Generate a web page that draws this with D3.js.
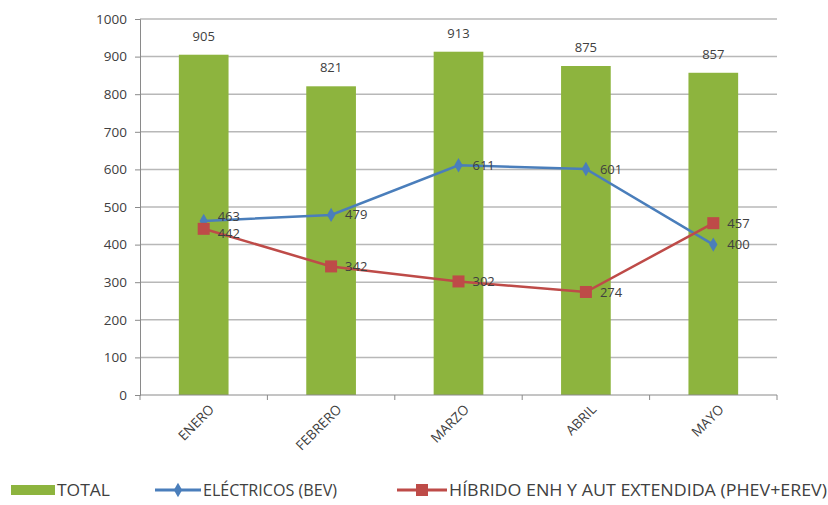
<!DOCTYPE html>
<html>
<head>
<meta charset="utf-8">
<script src="https://cdn.jsdelivr.net/npm/d3@7"></script>
<style>
  body { margin: 0; background: #fff; }
  text { font-family: "Open Sans", "Liberation Sans", sans-serif; fill: #404040; }
</style>
</head>
<body>
<div id="chart"></div>
<script>
const months = ['ENERO', 'FEBRERO', 'MARZO', 'ABRIL', 'MAYO'];
const total = [905, 821, 913, 875, 857];
const bev = [463, 479, 611, 601, 400];
const hybrid = [442, 342, 302, 274, 457];
const yTicks = [0, 100, 200, 300, 400, 500, 600, 700, 800, 900, 1000];

const width = 828;
const height = 505;
const margin = {left: 140, right: 51, top: 19, bottom: 110};

const svg = d3.select('#chart').append('svg')
  .attr('width', width)
  .attr('height', height);

const x = d3.scaleBand()
  .domain(months)
  .range([margin.left, width - margin.right])
  .paddingInner(0.61)
  .paddingOuter(0.305);

const y = d3.scaleLinear()
  .domain([0, 1000])
  .range([height - margin.bottom, margin.top]);

const cx = m => x(m) + x.bandwidth() / 2;

// gridlines
svg.append('g')
  .selectAll('line')
  .data(yTicks.slice(1))
  .join('line')
  .attr('x1', margin.left)
  .attr('x2', width - margin.right)
  .attr('y1', d => y(d))
  .attr('y2', d => y(d))
  .attr('stroke', '#b8b8b8')
  .attr('stroke-width', 1.5);

// y axis
const yAxis = svg.append('g')
  .attr('transform', `translate(${margin.left},0)`)
  .call(d3.axisLeft(y).tickValues(yTicks).tickFormat(d3.format('d')).tickSize(5).tickPadding(8));
yAxis.select('.domain').attr('stroke', '#8a8a8a');
yAxis.selectAll('.tick line').attr('stroke', '#8a8a8a');
yAxis.selectAll('text')
  .attr('font-size', 13.5)
  .attr('fill', '#404040')
  .style('font-family', '"Open Sans", sans-serif');

// bars
svg.append('g')
  .selectAll('rect')
  .data(total)
  .join('rect')
  .attr('x', (d, i) => x(months[i]))
  .attr('width', x.bandwidth())
  .attr('y', d => y(d))
  .attr('height', d => y(0) - y(d))
  .attr('fill', '#8db43e');

svg.append('g')
  .selectAll('text')
  .data(total)
  .join('text')
  .attr('x', (d, i) => cx(months[i]))
  .attr('y', d => y(d) - 14)
  .attr('text-anchor', 'middle')
  .attr('font-size', 13)
  .text(d => d);

// x axis
const xAxisY = y(0);
svg.append('line')
  .attr('x1', margin.left).attr('x2', width - margin.right)
  .attr('y1', xAxisY).attr('y2', xAxisY)
  .attr('stroke', '#8a8a8a');
const step = x.step();
svg.append('g')
  .selectAll('line')
  .data(d3.range(months.length + 1))
  .join('line')
  .attr('x1', i => margin.left + i * step)
  .attr('x2', i => margin.left + i * step)
  .attr('y1', xAxisY)
  .attr('y2', xAxisY + 5)
  .attr('stroke', '#8a8a8a');

svg.append('g')
  .selectAll('text')
  .data(months)
  .join('text')
  .attr('transform', d => `translate(${cx(d) + 8},${xAxisY + 12}) rotate(-45)`)
  .attr('text-anchor', 'end')
  .attr('dy', '0.35em')
  .attr('font-size', 13.5)
  .text(d => d);

// lines
const line = d3.line()
  .x((d, i) => cx(months[i]))
  .y(d => y(d));

const series = [
  {name: 'ELÉCTRICOS (BEV)', values: bev, color: '#4a7ebb', marker: 'diamond', nudge: [-4, 0, 0, 0, 0]},
  {name: 'HÍBRIDO ENH Y AUT EXTENDIDA (PHEV+EREV)', values: hybrid, color: '#be4b48', marker: 'square', nudge: [5, 0, 0, 0, 0]}
];

const drawMarker = (g, s, px, py) => {
  if (s.marker === 'diamond') {
    g.append('path')
      .attr('d', d3.symbol(d3.symbolDiamond, 60)())
      .attr('transform', `translate(${px},${py})`)
      .attr('fill', s.color);
  } else {
    g.append('rect')
      .attr('x', px - 6).attr('y', py - 6)
      .attr('width', 12).attr('height', 12)
      .attr('fill', s.color);
  }
};

series.forEach(s => {
  const g = svg.append('g');
  g.append('path')
    .datum(s.values)
    .attr('d', line)
    .attr('fill', 'none')
    .attr('stroke', s.color)
    .attr('stroke-width', 2.5);
  s.values.forEach((v, i) => drawMarker(g, s, cx(months[i]), y(v)));
  g.selectAll('text')
    .data(s.values)
    .join('text')
    .attr('x', (d, i) => cx(months[i]) + 14)
    .attr('y', (d, i) => y(d) + s.nudge[i])
    .attr('dy', '0.35em')
    .attr('font-size', 13)
    .text(d => d);
});

// legend
const ly = 490;
const legend = svg.append('g');
legend.append('rect')
  .attr('x', 11).attr('y', ly - 5)
  .attr('width', 44).attr('height', 10)
  .attr('fill', '#8db43e');
legend.append('text')
  .attr('x', 57).attr('y', ly).attr('dy', '0.35em')
  .attr('font-size', 16)
  .attr('textLength', 53).attr('lengthAdjust', 'spacingAndGlyphs')
  .text('TOTAL');

const legendPos = [{x0: 155, x1: 201, tw: 134}, {x0: 397, x1: 447, tw: 378}];
series.forEach((s, k) => {
  const p = legendPos[k];
  legend.append('line')
    .attr('x1', p.x0).attr('x2', p.x1)
    .attr('y1', ly).attr('y2', ly)
    .attr('stroke', s.color).attr('stroke-width', 3);
  drawMarker(legend, s, (p.x0 + p.x1) / 2, ly);
  legend.append('text')
    .attr('x', p.x1 + 2).attr('y', ly).attr('dy', '0.35em')
    .attr('font-size', 16)
    .attr('textLength', p.tw).attr('lengthAdjust', 'spacingAndGlyphs')
    .text(s.name);
});
</script>
</body>
</html>
